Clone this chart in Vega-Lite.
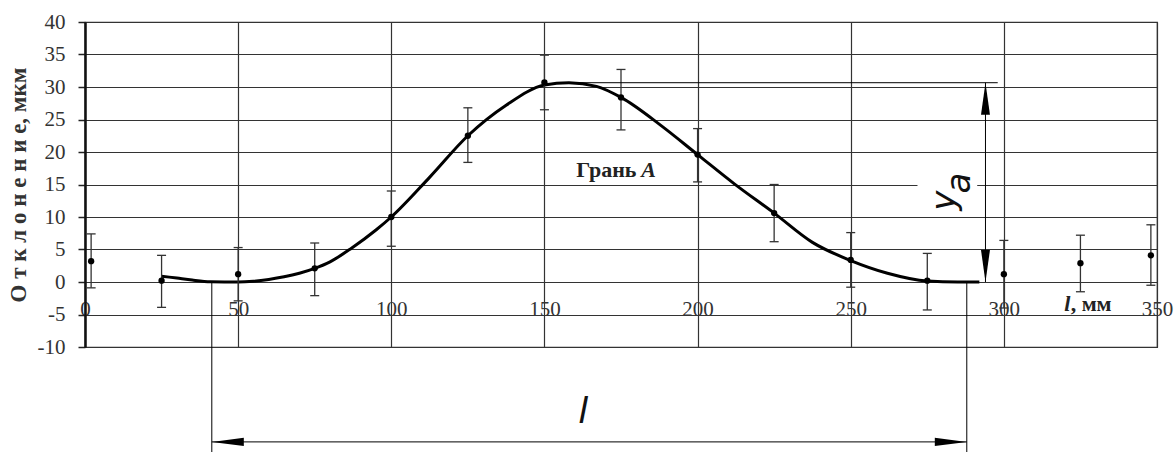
{
  "$schema": "https://vega.github.io/schema/vega-lite/v6.json",
  "width": 1072,
  "height": 325,
  "autosize": {"type": "none"},
  "padding": {"left": 85, "top": 22, "right": 19, "bottom": 105},
  "background": "white",
  "config": {"view": {"stroke": "#333", "strokeWidth": 1.2}, "font": "Liberation Serif"},
  "datasets": {
    "pts": [
      {"x": 2, "y": 3.2, "lo": -0.9, "hi": 7.4},
      {"x": 25, "y": 0.2, "lo": -3.9, "hi": 4.1},
      {"x": 50, "y": 1.2, "lo": -2.9, "hi": 5.3},
      {"x": 75, "y": 2.1, "lo": -2.1, "hi": 6.0},
      {"x": 100, "y": 10.0, "lo": 5.5, "hi": 14.0},
      {"x": 125, "y": 22.5, "lo": 18.4, "hi": 26.8},
      {"x": 150, "y": 30.7, "lo": 26.5, "hi": 34.9},
      {"x": 175, "y": 28.4, "lo": 23.4, "hi": 32.7},
      {"x": 200, "y": 19.6, "lo": 15.4, "hi": 23.6},
      {"x": 225, "y": 10.6, "lo": 6.2, "hi": 15.0},
      {"x": 250, "y": 3.4, "lo": -0.8, "hi": 7.6},
      {"x": 275, "y": 0.2, "lo": -4.3, "hi": 4.4},
      {"x": 300, "y": 1.2, "lo": -4.0, "hi": 6.4},
      {"x": 325, "y": 2.9, "lo": -1.5, "hi": 7.2},
      {"x": 348, "y": 4.1, "lo": -0.5, "hi": 8.8}
    ],
    "curve": [
      {"x": 25, "y": 0.9}, {"x": 30, "y": 0.6}, {"x": 35, "y": 0.3}, {"x": 41, "y": 0.05},
      {"x": 50, "y": 0}, {"x": 55, "y": 0.12}, {"x": 60, "y": 0.4}, {"x": 65, "y": 0.8},
      {"x": 70, "y": 1.35}, {"x": 75, "y": 2.1}, {"x": 80, "y": 3.1}, {"x": 87, "y": 5.2},
      {"x": 95, "y": 8.0}, {"x": 100, "y": 10.0}, {"x": 112.5, "y": 16.1}, {"x": 125, "y": 22.5},
      {"x": 137.5, "y": 27.2}, {"x": 150, "y": 30.3}, {"x": 158, "y": 30.66}, {"x": 167, "y": 30.1},
      {"x": 175, "y": 28.4}, {"x": 188, "y": 24.1}, {"x": 200, "y": 19.6}, {"x": 212, "y": 15.1},
      {"x": 225, "y": 10.6}, {"x": 237.5, "y": 6.1}, {"x": 250, "y": 3.3}, {"x": 262, "y": 1.35},
      {"x": 275, "y": 0.15}, {"x": 285, "y": 0.0}, {"x": 292, "y": 0}
    ],
    "lines": [
      {"x": 159, "x2": 298, "y": 30.66, "y2": 30.66},
      {"x": 294, "x2": 294, "y": 30.66, "y2": 0},
      {"x": 41.4, "x2": 41.4, "y": 0, "y2": -26.8},
      {"x": 287.9, "x2": 287.9, "y": 0, "y2": -26.8},
      {"x": 41.4, "x2": 287.9, "y": -24.6, "y2": -24.6}
    ],
    "arrows": [
      {"x": 294, "y": 30.66, "dir": "up"},
      {"x": 294, "y": 0, "dir": "down"},
      {"x": 41.4, "y": -24.6, "dir": "left"},
      {"x": 287.9, "y": -24.6, "dir": "right"}
    ]
  },
  "layer": [
    {
      "data": {"name": "curve"},
      "mark": {"type": "line", "color": "black", "strokeWidth": 3, "interpolate": "monotone"},
      "encoding": {
        "x": {
          "field": "x", "type": "quantitative",
          "scale": {"domain": [0, 350], "nice": false, "zero": false},
          "axis": {
            "title": null, "values": [0, 50, 100, 150, 200, 250, 300, 350], "tickCount": 20,
            "grid": true, "gridColor": "#333", "gridWidth": 1.2,
            "ticks": false, "domain": true, "domainColor": "#333", "domainWidth": 1.2,
            "labelFont": "Liberation Serif", "labelFontSize": 21, "labelColor": "#333",
            "labelPadding": -32, "labelBaseline": "alphabetic", "labelFlush": false, "labelOverlap": false
          }
        },
        "y": {
          "field": "y", "type": "quantitative",
          "scale": {"domain": [-10, 40], "nice": false, "zero": false},
          "axis": {
            "title": "О т к л о н е н и е, мкм", "values": [-10, -5, 0, 5, 10, 15, 20, 25, 30, 35, 40], "tickCount": 20,
            "labelExpr": "'' + datum.value",
            "grid": true, "gridColor": "#333", "gridWidth": 1.2,
            "ticks": true, "tickSize": 7, "tickColor": "#222", "tickWidth": 1.5,
            "domain": true, "domainColor": "#111", "domainWidth": 2.5,
            "labelFont": "Liberation Serif", "labelFontSize": 21, "labelColor": "#333", "labelPadding": 13, "labelOverlap": false,
            "titleFont": "Liberation Serif", "titleFontSize": 23, "titleFontWeight": "bold", "titleColor": "#333",
            "titlePadding": 7
          }
        }
      }
    },
    {
      "mark": {"type": "rule", "color": "black", "strokeWidth": 2.5},
      "encoding": {"y": {"datum": 0}}
    },
    {
      "data": {"name": "pts"},
      "mark": {"type": "rule", "color": "#333", "strokeWidth": 1.3},
      "encoding": {
        "x": {"field": "x", "type": "quantitative"},
        "y": {"field": "lo", "type": "quantitative"},
        "y2": {"field": "hi"}
      }
    },
    {
      "data": {"name": "pts"},
      "mark": {"type": "tick", "orient": "horizontal", "size": 9, "thickness": 1.3, "color": "#333", "opacity": 1},
      "encoding": {
        "x": {"field": "x", "type": "quantitative"},
        "y": {"field": "lo", "type": "quantitative"}
      }
    },
    {
      "data": {"name": "pts"},
      "mark": {"type": "tick", "orient": "horizontal", "size": 9, "thickness": 1.3, "color": "#333", "opacity": 1},
      "encoding": {
        "x": {"field": "x", "type": "quantitative"},
        "y": {"field": "hi", "type": "quantitative"}
      }
    },
    {
      "data": {"name": "pts"},
      "mark": {"type": "point", "filled": true, "color": "black", "size": 40, "opacity": 1},
      "encoding": {
        "x": {"field": "x", "type": "quantitative"},
        "y": {"field": "y", "type": "quantitative"}
      }
    },
    {
      "data": {"name": "lines"},
      "mark": {"type": "rule", "color": "black", "strokeWidth": 1},
      "encoding": {
        "x": {"field": "x", "type": "quantitative"},
        "x2": {"field": "x2"},
        "y": {"field": "y", "type": "quantitative"},
        "y2": {"field": "y2"}
      }
    },
    {
      "data": {"name": "arrows"},
      "mark": {"type": "point", "filled": true, "color": "black", "size": 1024, "opacity": 1, "strokeWidth": 0},
      "encoding": {
        "x": {"field": "x", "type": "quantitative"},
        "y": {"field": "y", "type": "quantitative"},
        "shape": {
          "field": "dir", "type": "nominal", "legend": null,
          "scale": {
            "domain": ["up", "down", "left", "right"],
            "range": ["M0,0L-0.28,2L0.28,2Z", "M0,0L-0.28,-2L0.28,-2Z", "M0,0L2,-0.26L2,0.26Z", "M0,0L-2,-0.26L-2,0.26Z"]
          }
        }
      }
    },
    {
      "data": {"values": [{"x": 271.8, "x2": 291.3, "y": 12, "y2": 18.3}]},
      "mark": {"type": "rect", "color": "white", "opacity": 1},
      "encoding": {
        "x": {"field": "x", "type": "quantitative"},
        "x2": {"field": "x2"},
        "y": {"field": "y", "type": "quantitative"},
        "y2": {"field": "y2"}
      }
    },
    {
      "data": {"values": [{"t": "y", "x": 280.9, "y": 12.5}]},
      "mark": {"type": "text", "font": "DejaVu Sans", "fontWeight": 200, "fontStyle": "italic", "fontSize": 34, "angle": 270, "align": "center", "baseline": "middle", "color": "#111"},
      "encoding": {"x": {"field": "x", "type": "quantitative"}, "y": {"field": "y", "type": "quantitative"}, "text": {"field": "t"}}
    },
    {
      "data": {"values": [{"t": "a", "x": 285.8, "y": 15.2}]},
      "mark": {"type": "text", "font": "DejaVu Sans", "fontWeight": 200, "fontStyle": "italic", "fontSize": 34, "angle": 270, "align": "center", "baseline": "middle", "color": "#111"},
      "encoding": {"x": {"field": "x", "type": "quantitative"}, "y": {"field": "y", "type": "quantitative"}, "text": {"field": "t"}}
    },
    {
      "data": {"values": [{"t": "l", "x": 162.7, "y": -19.95}]},
      "mark": {"type": "text", "font": "DejaVu Sans", "fontWeight": 200, "fontStyle": "italic", "fontSize": 36, "align": "center", "baseline": "middle", "color": "#111"},
      "encoding": {"x": {"field": "x", "type": "quantitative"}, "y": {"field": "y", "type": "quantitative"}, "text": {"field": "t"}}
    },
    {
      "data": {"values": [{"t": "Грань", "x": 160.4, "y": 16.2}]},
      "mark": {"type": "text", "font": "Liberation Serif", "fontWeight": "bold", "fontSize": 22, "align": "left", "baseline": "alphabetic", "color": "#222"},
      "encoding": {"x": {"field": "x", "type": "quantitative"}, "y": {"field": "y", "type": "quantitative"}, "text": {"field": "t"}}
    },
    {
      "data": {"values": [{"t": "A", "x": 181.6, "y": 16.2}]},
      "mark": {"type": "text", "font": "Liberation Serif", "fontWeight": "bold", "fontStyle": "italic", "fontSize": 22, "align": "left", "baseline": "alphabetic", "color": "#222"},
      "encoding": {"x": {"field": "x", "type": "quantitative"}, "y": {"field": "y", "type": "quantitative"}, "text": {"field": "t"}}
    },
    {
      "data": {"values": [{"t": "l", "x": 319.7, "y": -4.4}]},
      "mark": {"type": "text", "font": "Liberation Serif", "fontWeight": "bold", "fontStyle": "italic", "fontSize": 22, "align": "left", "baseline": "alphabetic", "color": "#222"},
      "encoding": {"x": {"field": "x", "type": "quantitative"}, "y": {"field": "y", "type": "quantitative"}, "text": {"field": "t"}}
    },
    {
      "data": {"values": [{"t": ", мм", "x": 321.8, "y": -4.4}]},
      "mark": {"type": "text", "font": "Liberation Serif", "fontWeight": "bold", "fontSize": 22, "align": "left", "baseline": "alphabetic", "color": "#222"},
      "encoding": {"x": {"field": "x", "type": "quantitative"}, "y": {"field": "y", "type": "quantitative"}, "text": {"field": "t"}}
    }
  ]
}
